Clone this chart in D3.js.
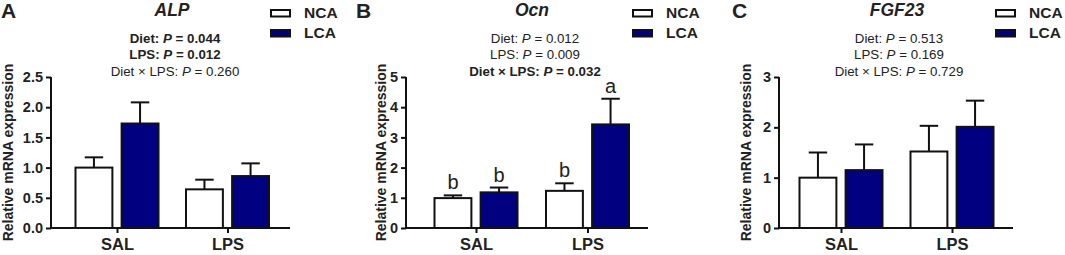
<!DOCTYPE html>
<html>
<head>
<meta charset="utf-8">
<script src="https://cdn.jsdelivr.net/npm/d3@7"></script>
<style>
  body { margin: 0; background: #fff; }
  text { font-family: "Liberation Sans", Arial, sans-serif; fill: #222; }
</style>
</head>
<body>
<script>
// chart size
const width = 1065;
const height = 255;

// data
const groups = ['SAL', 'LPS'];
const diets = ['NCA', 'LCA'];
const dietColors = ['#ffffff', '#000080'];

const alpMean = [[1.00, 1.73], [0.64, 0.86]];
const alpErr = [[0.17, 0.35], [0.16, 0.21]];
const ocnMean = [[0.99, 1.18], [1.23, 3.43]];
const ocnErr = [[0.09, 0.16], [0.25, 0.85]];
const fgfMean = [[1.00, 1.15], [1.52, 2.01]];
const fgfErr = [[0.50, 0.51], [0.51, 0.52]];

const ocnLetters = [['b', 'b'], ['b', 'a']];

const alpTicks = [0, 0.5, 1.0, 1.5, 2.0, 2.5];
const ocnTicks = [0, 1, 2, 3, 4, 5];
const fgfTicks = [0, 1, 2, 3];

const alpStats = [
  { label: 'Diet: ', p: '0.044', bold: true },
  { label: 'LPS: ', p: '0.012', bold: true },
  { label: 'Diet × LPS: ', p: '0.260', bold: false }
];
const ocnStats = [
  { label: 'Diet: ', p: '0.012', bold: false },
  { label: 'LPS: ', p: '0.009', bold: false },
  { label: 'Diet × LPS: ', p: '0.032', bold: true }
];
const fgfStats = [
  { label: 'Diet: ', p: '0.513', bold: false },
  { label: 'LPS: ', p: '0.169', bold: false },
  { label: 'Diet × LPS: ', p: '0.729', bold: false }
];

// panel layout
const panels = [
  { letter: 'A', title: 'ALP', mean: alpMean, err: alpErr, ticks: alpTicks, fmt: d3.format('.1f'),
    stats: alpStats, letters: null,
    axisX: 51, axisEnd: 290, centers: [117, 227.5], labelX: 8, letterX: 1, titleX: 172, statsX: 175, legendX: 270 },
  { letter: 'B', title: 'Ocn', mean: ocnMean, err: ocnErr, ticks: ocnTicks, fmt: d3.format('d'),
    stats: ocnStats, letters: ocnLetters,
    axisX: 406, axisEnd: 648, centers: [476, 587.5], labelX: 381, letterX: 356, titleX: 532, statsX: 535, legendX: 632 },
  { letter: 'C', title: 'FGF23', mean: fgfMean, err: fgfErr, ticks: fgfTicks, fmt: d3.format('d'),
    stats: fgfStats, letters: null,
    axisX: 779, axisEnd: 1013, centers: [841, 952], labelX: 746, letterX: 732, titleX: 897, statsX: 899, legendX: 995 }
];

const yTop = 77;
const yBottom = 228;

const svg = d3.select('body')
  .append('svg')
  .attr('width', width)
  .attr('height', height);

panels.forEach(function(p) {
  const g = svg.append('g');

  const x = d3.scalePoint().domain(groups).range(p.centers);
  const inner = d3.scaleBand().domain(diets).range([-41.5, 41.5]).paddingInner(0.2);
  const y = d3.scaleLinear()
    .domain([0, d3.max(p.ticks)])
    .range([yBottom, yTop]);

  // bars with error bars
  groups.forEach(function(grp, gi) {
    diets.forEach(function(diet, di) {
      const bx = x(grp) + inner(diet);
      const bw = inner.bandwidth();
      const cx = bx + bw / 2;
      const m = p.mean[gi][di];
      const e = p.err[gi][di];

      g.append('line')
        .attr('x1', cx).attr('x2', cx)
        .attr('y1', y(m)).attr('y2', y(m + e))
        .attr('stroke', '#111').attr('stroke-width', 2);
      g.append('line')
        .attr('x1', cx - bw / 4).attr('x2', cx + bw / 4)
        .attr('y1', y(m + e)).attr('y2', y(m + e))
        .attr('stroke', '#111').attr('stroke-width', 2);

      g.append('rect')
        .attr('x', bx)
        .attr('y', y(m))
        .attr('width', bw)
        .attr('height', y(0) - y(m))
        .attr('fill', dietColors[di])
        .attr('stroke', '#111')
        .attr('stroke-width', 2);

      if (p.letters) {
        g.append('text')
          .attr('x', cx)
          .attr('y', y(m + e) - 6)
          .attr('text-anchor', 'middle')
          .style('font-size', '20px')
          .text(p.letters[gi][di]);
      }
    });
  });

  // y axis
  const yAxis = g.append('g')
    .attr('transform', 'translate(' + p.axisX + ',0)')
    .call(d3.axisLeft(y).tickValues(p.ticks).tickFormat(p.fmt).tickSize(5).tickPadding(3));
  yAxis.select('.domain').attr('stroke', '#111').attr('stroke-width', 2).attr('d', 'M0,' + yTop + 'V' + yBottom);
  yAxis.selectAll('.tick line').attr('stroke', '#111').attr('stroke-width', 2);
  yAxis.selectAll('.tick text')
    .style('font-size', '14.5px')
    .style('font-weight', 'bold')
    .style('font-family', '"Liberation Sans", Arial, sans-serif')
    .attr('fill', '#222');

  // x axis
  const xAxis = g.append('g')
    .attr('transform', 'translate(0,' + yBottom + ')')
    .call(d3.axisBottom(x).tickSize(5).tickPadding(5));
  xAxis.select('.domain').attr('stroke', '#111').attr('stroke-width', 2).attr('d', 'M' + p.axisX + ',0H' + p.axisEnd);
  xAxis.selectAll('.tick line').attr('stroke', '#111').attr('stroke-width', 2);
  xAxis.selectAll('.tick text')
    .style('font-size', '16.5px')
    .style('font-weight', 'bold')
    .style('font-family', '"Liberation Sans", Arial, sans-serif')
    .attr('fill', '#222');

  // y label
  g.append('text')
    .attr('transform', 'translate(' + p.labelX + ',' + (yTop + yBottom) / 2 + ') rotate(-90)')
    .attr('text-anchor', 'middle')
    .attr('dy', '0.35em')
    .style('font-size', '14px')
    .style('font-weight', 'bold')
    .text('Relative mRNA expression');

  // panel letter and title
  g.append('text')
    .attr('x', p.letterX)
    .attr('y', 18)
    .style('font-size', '21px')
    .style('font-weight', 'bold')
    .text(p.letter);
  g.append('text')
    .attr('x', p.titleX)
    .attr('y', 15.5)
    .attr('text-anchor', 'middle')
    .style('font-size', '17.5px')
    .style('font-weight', 'bold')
    .style('font-style', 'italic')
    .text(p.title);

  // stats lines
  p.stats.forEach(function(s, i) {
    const t = g.append('text')
      .attr('x', p.statsX)
      .attr('y', 42.5 + i * 16.5)
      .attr('text-anchor', 'middle')
      .style('font-size', '13.3px')
      .style('font-weight', s.bold ? 'bold' : 'normal');
    t.append('tspan').text(s.label);
    t.append('tspan').style('font-style', 'italic').text('P');
    t.append('tspan').text(' = ' + s.p);
  });

  // legend
  diets.forEach(function(diet, di) {
    const ly = 10 + di * 20;
    g.append('rect')
      .attr('x', p.legendX + 1)
      .attr('y', ly)
      .attr('width', 19)
      .attr('height', 6.5)
      .attr('fill', dietColors[di])
      .attr('stroke', '#111')
      .attr('stroke-width', 2);
    g.append('text')
      .attr('x', p.legendX + 34)
      .attr('y', ly + 8)
      .style('font-size', '15.5px')
      .style('font-weight', 'bold')
      .text(diet);
  });
});
</script>
</body>
</html>
